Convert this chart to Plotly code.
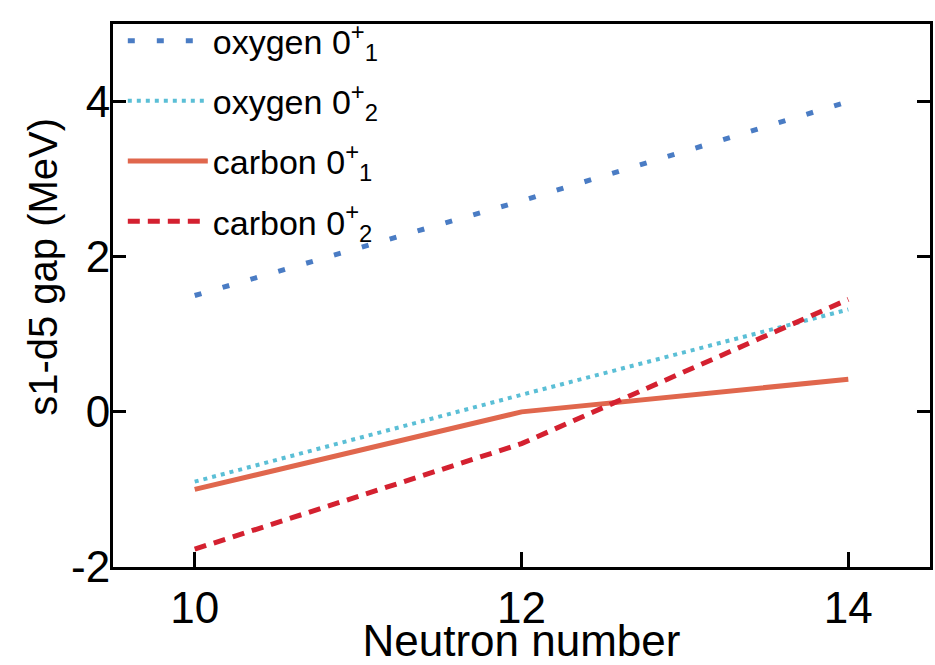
import plotly.graph_objects as go

# Neutron numbers and s1-d5 gaps (MeV)
neutron_number = [10, 12, 14]
oxygen_01 = [1.5, 2.72, 4.0]
oxygen_02 = [-0.9, 0.22, 1.32]
carbon_01 = [-1.0, 0.0, 0.42]
carbon_02 = [-1.77, -0.41, 1.45]

x_ticks = [10, 12, 14]
y_ticks = [-2, 0, 2, 4]
y_tick_text = ["-2", "0", "2", "4"]

FONT = "Liberation Sans, Arial, sans-serif"

series = [
    ("oxygen 0<sup>+</sup><sub>1</sub>", oxygen_01, "#4a7cc4", 5, "7px,22px"),
    ("oxygen 0<sup>+</sup><sub>2</sub>", oxygen_02, "#5bbfd6", 4, "4px,5px"),
    ("carbon 0<sup>+</sup><sub>1</sub>", carbon_01, "#e0674d", 5, "solid"),
    ("carbon 0<sup>+</sup><sub>2</sub>", carbon_02, "#d42130", 5, "12px,8px"),
]

fig = go.Figure()
for i, (name, vals, color, width, dash) in enumerate(series):
    fig.add_trace(go.Scatter(
        x=neutron_number, y=vals, mode="lines", name=name,
        legendgroup=f"g{i}",
        line=dict(color=color, width=width, dash=dash),
    ))

axis_common = dict(
    showgrid=False, zeroline=False,
    showline=True, linecolor="black", linewidth=3,
    ticks="inside", tickcolor="black", tickwidth=3,
    tickfont=dict(family=FONT, size=44, color="black"),
)

fig.update_xaxes(
    range=[9.5, 14.5], tickvals=x_ticks, ticklen=15, mirror=True,
    title=dict(text="Neutron number", font=dict(family=FONT, size=44, color="black"),
               standoff=0),
    **axis_common,
)
fig.update_yaxes(
    range=[-2, 5], tickvals=y_ticks, ticktext=y_tick_text, ticklen=13, mirror="ticks",
    ticklabelstandoff=-9,
    **axis_common,
)

fig.add_annotation(
    text="s1-d5 gap (MeV)", textangle=-90,
    xref="paper", yref="paper", x=-0.085, y=0.552,
    xanchor="center", yanchor="middle", showarrow=False,
    font=dict(family=FONT, size=40, color="black"),
)

fig.update_layout(
    width=935, height=665,
    margin=dict(l=113, r=2, t=24, b=92),
    paper_bgcolor="white", plot_bgcolor="white",
    showlegend=True,
    legend=dict(
        x=0.012, y=1.022, xanchor="left", yanchor="top",
        bgcolor="rgba(0,0,0,0)", borderwidth=0,
        font=dict(family=FONT, size=34, color="black"),
        itemwidth=80, tracegroupgap=13,
    ),
)

fig.write_html("out.html")
